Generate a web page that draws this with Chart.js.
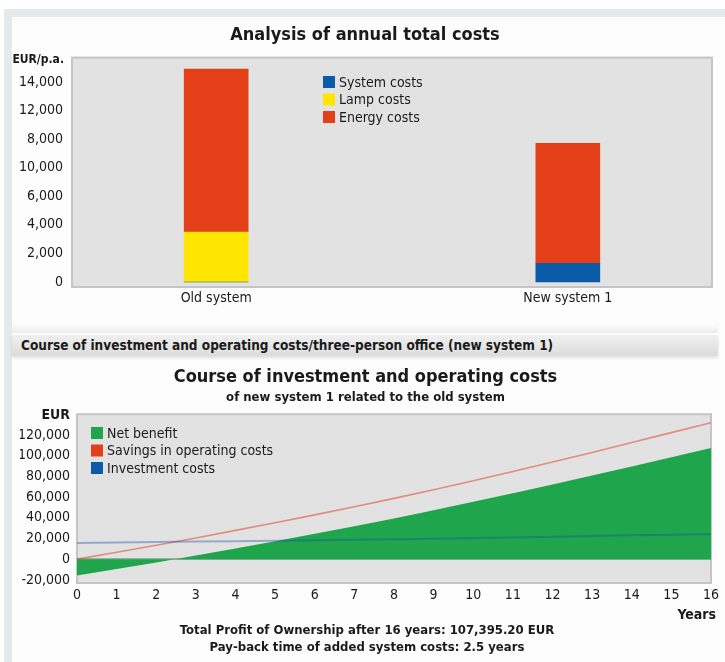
<!DOCTYPE html>
<html lang="en">
<head>
    <meta charset="UTF-8">
    <title>Annual total costs / investment course</title>
    <script src="https://cdn.jsdelivr.net/npm/chart.js"></script>
    <style>
        body {
            margin: 0;
            width: 725px;
            height: 662px;
            overflow: hidden;
            background: #ffffff;
            position: relative;
            font-family: "DejaVu Sans Condensed", "DejaVu Sans", sans-serif;
            color: #1a1a1a;
        }
        #frame {
            position: absolute;
            left: 4px; top: 9px; right: 0; bottom: 0;
            background: #e4e9ec;
        }
        #panel {
            position: absolute;
            left: 12px; top: 17px; right: 0; bottom: 0;
            background: #fdfdfd;
        }
        #divider {
            position: absolute;
            left: 12px; top: 324px; width: 706px; height: 9px;
            background: linear-gradient(#fdfdfd, #ececec);
        }
        #section {
            position: absolute;
            left: 12px; top: 335px; width: 706px; height: 21px;
            background: linear-gradient(#f0f0f0, #dcdcdc);
            box-shadow: 0 2px 3px rgba(0,0,0,0.12);
            font-weight: bold;
            font-size: 13.5px;
            line-height: 21px;
            padding-left: 9px;
            box-sizing: border-box;
            white-space: nowrap;
        }
        canvas { position: absolute; left: 0; }
        #costChart { top: 0; }
        #courseChart { top: 360px; }
        .note {
            position: absolute;
            font-weight: bold;
            font-size: 13px;
            white-space: nowrap;
        }
        #years { right: 9px; top: 606px; font-size: 14px; }
        #foot1 { left: 0; width: 734px; text-align: center; top: 622px; }
        #foot2 { left: 0; width: 734px; text-align: center; top: 639px; }
    </style>
</head>
<body>
    <div id="frame"></div>
    <div id="panel"></div>
    <div id="divider"></div>
    <div id="section">Course of investment and operating costs/three-person office (new system 1)</div>
    <canvas id="costChart" width="725" height="325"></canvas>
    <canvas id="courseChart" width="725" height="302"></canvas>
    <div class="note" id="years">Years</div>
    <div class="note" id="foot1">Total Profit of Ownership after 16 years: 107,395.20 EUR</div>
    <div class="note" id="foot2">Pay-back time of added system costs: 2.5 years</div>

    <script>
        // --- annual total costs (EUR/p.a.)
        const systems = ['Old system', 'New system 1'];
        const systemCosts = [0, 1300];
        const lampCosts = [3500, 0];
        const energyCosts = [11400, 8400];
        const costTickValues = [0, 2000, 4000, 6000, 8000, 10000, 12000, 14000];
        // labels as printed on the original axis (8,000 and 10,000 swapped)
        const costTickLabels = ['0', '2,000', '4,000', '6,000', '10,000', '8,000', '12,000', '14,000'];

        // --- course of investment and operating costs (EUR)
        const years = [0, 1, 2, 3, 4, 5, 6, 7, 8, 9, 10, 11, 12, 13, 14, 15, 16];
        const netBenefit = [-15700, -9400, -3200, 3500, 10400, 17400, 24500, 31800, 39400, 47300, 55400, 63700, 72100, 80700, 89500, 98500, 107400];
        const savings = [0, 6700, 13400, 20500, 27800, 35200, 42800, 50600, 58700, 67100, 75800, 84700, 93800, 103100, 112600, 122200, 131800];
        const investment = [15700, 16100, 16600, 17000, 17400, 17800, 18300, 18800, 19300, 19800, 20400, 21000, 21700, 22400, 23100, 23700, 24400];
        const euroTicks = [-20000, 0, 20000, 40000, 60000, 80000, 100000, 120000];

        const FONT = '"DejaVu Sans Condensed", "DejaVu Sans", sans-serif';
        const BLUE = '#0b5ca8';
        const YELLOW = '#ffe600';
        const RED = '#e3401a';
        const GREEN = '#1fa54b';

        Chart.defaults.font.family = FONT;
        Chart.defaults.color = '#1a1a1a';
        Chart.defaults.animation = false;

        // grey plot box behind the data
        const plotBg = {
            id: 'plotBg',
            beforeDraw(chart) {
                const { ctx, chartArea: a } = chart;
                ctx.save();
                ctx.fillStyle = '#e2e2e2';
                ctx.fillRect(a.left, a.top, a.right - a.left, a.bottom - a.top);
                ctx.strokeStyle = '#c5c5c5';
                ctx.lineWidth = 2;
                ctx.strokeRect(a.left, a.top, a.right - a.left, a.bottom - a.top);
                ctx.restore();
            }
        };

        // legend drawn inside the plot + unit label left of the plot
        const boxLegend = {
            id: 'boxLegend',
            afterDraw(chart, args, opts) {
                const ctx = chart.ctx;
                ctx.save();
                ctx.textBaseline = 'middle';
                ctx.font = '14px ' + FONT;
                chart.data.datasets.forEach((ds, i) => {
                    const y = opts.y + i * opts.gap;
                    ctx.fillStyle = opts.colors[i];
                    ctx.fillRect(opts.x, y - 6, 12, 12);
                    ctx.fillStyle = '#1a1a1a';
                    ctx.textAlign = 'left';
                    ctx.fillText(ds.label, opts.x + 16, y + 1);
                });
                ctx.font = 'bold ' + opts.unitSize + 'px ' + FONT;
                ctx.textAlign = 'right';
                ctx.fillText(opts.unit, opts.unitX, opts.unitY);
                ctx.restore();
            }
        };

        new Chart(document.getElementById('costChart'), {
            type: 'bar',
            data: {
                datasets: [
                    { label: 'System costs', data: systemCosts.map((v, i) => ({ x: i, y: v })), backgroundColor: BLUE },
                    { label: 'Lamp costs', data: lampCosts.map((v, i) => ({ x: i, y: v })), backgroundColor: YELLOW },
                    { label: 'Energy costs', data: energyCosts.map((v, i) => ({ x: i, y: v })), backgroundColor: RED }
                ]
            },
            options: {
                responsive: false,
                barThickness: 64,
                layout: { padding: { left: 18, right: 13, top: 0, bottom: 8 } },
                scales: {
                    x: {
                        type: 'linear',
                        stacked: true,
                        offset: false,
                        bounds: 'ticks',
                        min: -0.41,
                        max: 1.41,
                        afterBuildTicks: s => { s.ticks = [{ value: 0 }, { value: 1 }]; },
                        afterFit: s => { s.height = 30; },
                        grid: { display: false, drawTicks: false },
                        border: { display: false },
                        ticks: { padding: 3, font: { size: 14 }, callback: v => systems[v] }
                    },
                    y: {
                        stacked: true,
                        min: -350,
                        max: 15700,
                        afterBuildTicks: s => { s.ticks = costTickValues.map(v => ({ value: v })); },
                        afterFit: s => { s.width = 54; },
                        grid: { display: false, drawTicks: false },
                        border: { display: false },
                        ticks: { padding: 9, font: { size: 14 }, callback: (v, i) => costTickLabels[i] }
                    }
                },
                plugins: {
                    legend: { display: false },
                    tooltip: { enabled: false },
                    title: {
                        display: true,
                        text: 'Analysis of annual total costs',
                        font: { size: 18, weight: 'bold' },
                        padding: { top: 25, bottom: 11 }
                    },
                    boxLegend: {
                        x: 323, y: 82, gap: 17.5,
                        colors: [BLUE, YELLOW, RED],
                        unit: 'EUR/p.a.', unitSize: 12, unitX: 64, unitY: 60
                    }
                }
            },
            plugins: [plotBg, boxLegend]
        });

        new Chart(document.getElementById('courseChart'), {
            type: 'line',
            data: {
                datasets: [
                    {
                        label: 'Net benefit',
                        data: years.map((x, i) => ({ x, y: netBenefit[i] })),
                        backgroundColor: GREEN,
                        borderWidth: 0,
                        pointRadius: 0,
                        fill: 'origin',
                        order: 3
                    },
                    {
                        label: 'Savings in operating costs',
                        data: years.map((x, i) => ({ x, y: savings[i] })),
                        borderColor: 'rgba(225, 70, 40, 0.55)',
                        borderWidth: 1.6,
                        pointRadius: 0,
                        fill: false,
                        order: 2
                    },
                    {
                        label: 'Investment costs',
                        data: years.map((x, i) => ({ x, y: investment[i] })),
                        borderColor: 'rgba(20, 80, 170, 0.38)',
                        borderWidth: 2,
                        pointRadius: 0,
                        fill: false,
                        order: 1
                    }
                ]
            },
            options: {
                responsive: false,
                layout: { padding: { left: 20, right: 14, top: 0, bottom: 49 } },
                scales: {
                    x: {
                        type: 'linear',
                        min: 0,
                        max: 16,
                        afterBuildTicks: s => { s.ticks = years.map(v => ({ value: v })); },
                        afterFit: s => { s.height = 30; },
                        grid: { display: false, drawTicks: false },
                        border: { display: false },
                        ticks: { padding: 4, font: { size: 14 }, maxRotation: 0, autoSkip: false }
                    },
                    y: {
                        min: -23000,
                        max: 140000,
                        z: 1,
                        afterBuildTicks: s => { s.ticks = euroTicks.map(v => ({ value: v })); },
                        afterFit: s => { s.width = 57; },
                        grid: {
                            drawTicks: false,
                            lineWidth: 2,
                            color: c => c.tick && c.tick.value === 0 ? 'rgba(0, 90, 45, 0.35)' : 'rgba(0,0,0,0)'
                        },
                        border: { display: false },
                        ticks: { padding: 7, font: { size: 14 }, callback: v => v.toLocaleString('en-US') }
                    }
                },
                plugins: {
                    legend: { display: false },
                    tooltip: { enabled: false },
                    title: {
                        display: true,
                        text: 'Course of investment and operating costs',
                        font: { size: 18, weight: 'bold' },
                        padding: { top: 7, bottom: 0 }
                    },
                    subtitle: {
                        display: true,
                        text: 'of new system 1 related to the old system',
                        font: { size: 13, weight: 'bold' },
                        color: '#1a1a1a',
                        padding: { top: 1, bottom: 9 }
                    },
                    boxLegend: {
                        x: 91, y: 73, gap: 17.5,
                        colors: [GREEN, RED, BLUE],
                        unit: 'EUR', unitSize: 14, unitX: 70, unitY: 55
                    }
                }
            },
            plugins: [plotBg, boxLegend]
        });
    </script>
</body>
</html>
